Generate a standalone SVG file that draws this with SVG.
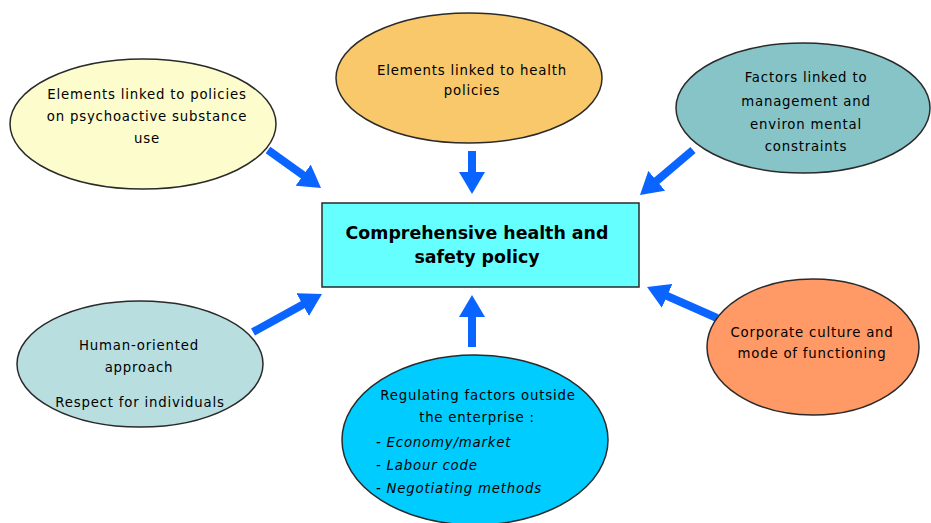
<svg xmlns="http://www.w3.org/2000/svg" width="931" height="523" viewBox="0 0 931 523">
<style>
.node ellipse, .node rect { stroke: #2a2a2a; stroke-width: 1.5; }
.t { font-family: "DejaVu Sans", "Liberation Sans", sans-serif; font-size: 13.3px; letter-spacing: 0.8px; fill: #000; text-anchor: middle; }
.it { font-style: italic; text-anchor: start; }
.title { font-family: "DejaVu Sans", "Liberation Sans", sans-serif; font-size: 17.4px; font-weight: bold; fill: #000; text-anchor: middle; }
.conn line { stroke: #0a64ff; stroke-width: 8; }
</style>
<defs>
<marker id="ah" markerUnits="userSpaceOnUse" markerWidth="22" markerHeight="26" refX="4" refY="13" orient="auto">
<path d="M0,0 L22,13 L0,26 Z" fill="#0a64ff"/>
</marker>
</defs>
<rect width="931" height="523" fill="#fff"/>
<g class="conn" id="connectors">
<line x1="268" y1="150" x2="306.4" y2="177.5" marker-end="url(#ah)"/>
<line x1="472" y1="151" x2="472" y2="176" marker-end="url(#ah)"/>
<line x1="693" y1="150" x2="653.7" y2="183.4" marker-end="url(#ah)"/>
<line x1="253" y1="332" x2="306.2" y2="302.7" marker-end="url(#ah)"/>
<line x1="472" y1="347" x2="472" y2="313" marker-end="url(#ah)"/>
<line x1="717" y1="318" x2="663.5" y2="294.3" marker-end="url(#ah)"/>
</g>
<g class="node" id="n-psychoactive">
<ellipse cx="143" cy="124" rx="133" ry="65" fill="#fdfccc"/>
<text class="t" x="147" y="99">Elements linked to policies</text>
<text class="t" x="147" y="121">on psychoactive substance</text>
<text class="t" x="147" y="143">use</text>
</g>
<g class="node" id="n-health">
<ellipse cx="469" cy="78" rx="133" ry="65" fill="#f9c86a"/>
<text class="t" x="472" y="75">Elements linked to health</text>
<text class="t" x="472" y="95">policies</text>
</g>
<g class="node" id="n-management">
<ellipse cx="803" cy="108" rx="127" ry="65" fill="#86c4c8"/>
<text class="t" x="806" y="82">Factors linked to</text>
<text class="t" x="806" y="106">management and</text>
<text class="t" x="806" y="129">environ mental</text>
<text class="t" x="806" y="151">constraints</text>
</g>
<g class="node" id="n-center">
<rect x="322" y="203" width="317" height="84" fill="#66ffff"/>
<text class="title" x="477" y="239">Comprehensive health and</text>
<text class="title" x="477" y="263">safety policy</text>
</g>
<g class="node" id="n-human">
<ellipse cx="140" cy="364" rx="123" ry="63" fill="#b8dee0"/>
<text class="t" x="139" y="350">Human-oriented</text>
<text class="t" x="139" y="372">approach</text>
<text class="t" x="140" y="407">Respect for individuals</text>
</g>
<g class="node" id="n-regulating">
<ellipse cx="475" cy="440" rx="133" ry="85" fill="#00ccff"/>
<text class="t" x="478" y="400">Regulating factors outside</text>
<text class="t" x="477" y="422">the enterprise :</text>
<text class="t it" x="376" y="447">- Economy/market</text>
<text class="t it" x="376" y="470">- Labour code</text>
<text class="t it" x="376" y="493">- Negotiating methods</text>
</g>
<g class="node" id="n-corporate">
<ellipse cx="813" cy="347" rx="106" ry="68" fill="#ff9966"/>
<text class="t" x="812" y="337">Corporate culture and</text>
<text class="t" x="812" y="358">mode of functioning</text>
</g>
</svg>
